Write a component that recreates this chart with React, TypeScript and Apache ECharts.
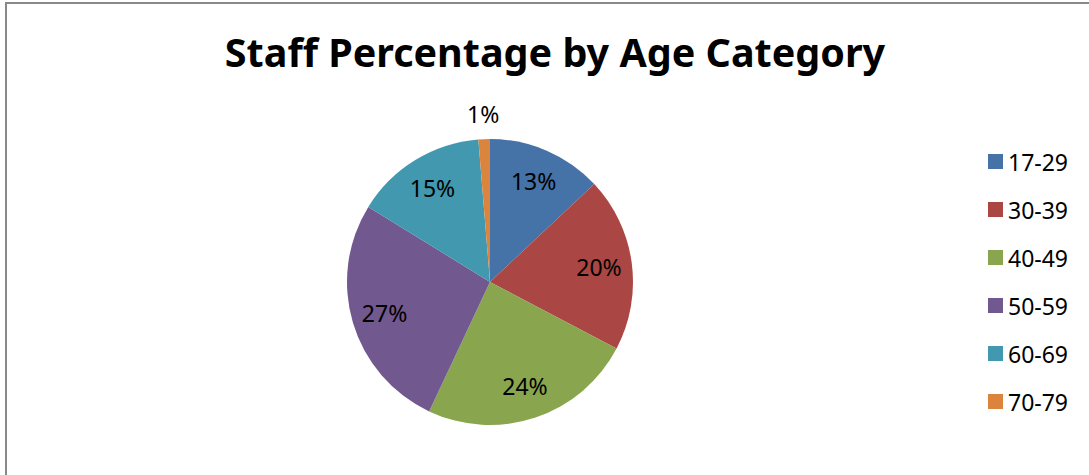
import React, { useEffect, useRef } from "react";
import * as echarts from "echarts";

const categories = ["17-29", "30-39", "40-49", "50-59", "60-69", "70-79"];
const values = [13.0, 19.7, 24.3, 26.8, 14.9, 1.3];
const colors = ["#4572A7", "#AA4643", "#89A54E", "#71588F", "#4198AF", "#DB843D"];
const titleText = "Staff Percentage by Age Category";

const FONT = "'Noto Sans', 'DejaVu Sans', sans-serif";

export default function App() {
  const ref = useRef<HTMLDivElement>(null);
  useEffect(() => {
    if (!ref.current) return;
    const chart = echarts.init(ref.current, null, { renderer: "svg" });
    const fmt = (p: any) => `${Math.round(p.percent)}%`;
    const transparent = "rgba(0,0,0,0)";
    const smallIdx = values.length - 1;
    chart.setOption({
      animation: false,
      backgroundColor: "#ffffff",
      color: colors,
      title: {
        text: titleText,
        left: 550,
        top: 27,
        textAlign: "center",
        textStyle: {
          fontFamily: FONT,
          fontWeight: "bold",
          fontSize: 39.5,
          color: "#000000",
        },
      },
      legend: {
        orient: "vertical",
        left: 988,
        top: 150,
        padding: 0,
        icon: "rect",
        itemWidth: 15,
        itemHeight: 15,
        itemGap: 25,
        data: categories,
        textStyle: {
          fontFamily: FONT,
          fontSize: 23,
          lineHeight: 22,
          color: "#000000",
        },
      },
      graphic: [
        {
          type: "rect",
          shape: { x: 6, y: 3, width: 2000, height: 1000 },
          style: { fill: "none", stroke: "#898989", lineWidth: 2 },
          silent: true,
        },
      ],
      series: [
        {
          name: "main",
          type: "pie",
          center: [490, 282],
          radius: [0, 143],
          startAngle: 90,
          clockwise: true,
          label: { show: false },
          labelLine: { show: false },
          emphasis: { disabled: true },
          data: categories.map((c, i) => ({
            name: c,
            value: values[i],
            itemStyle: { color: colors[i] },
          })),
        },
        {
          name: "labelsInner",
          type: "pie",
          center: [490, 282],
          radius: [71, 143],
          startAngle: 90,
          clockwise: true,
          silent: true,
          emphasis: { disabled: true },
          itemStyle: { color: transparent },
          labelLine: { show: false },
          label: {
            show: true,
            position: "inside",
            formatter: fmt,
            fontFamily: FONT,
            fontSize: 23,
            color: "#000000",
          },
          data: categories.map((c, i) => ({
            name: c,
            value: values[i],
            label: { show: i !== smallIdx },
          })),
        },
        {
          name: "labelsOuter",
          type: "pie",
          center: [490, 282],
          radius: [143, 187],
          startAngle: 90,
          clockwise: true,
          silent: true,
          emphasis: { disabled: true },
          itemStyle: { color: transparent },
          labelLine: { show: false },
          label: {
            show: true,
            position: "inside",
            formatter: fmt,
            fontFamily: FONT,
            fontSize: 23,
            color: "#000000",
          },
          data: categories.map((c, i) => ({
            name: c,
            value: values[i],
            label: { show: i === smallIdx },
          })),
        },
      ],
    });
    return () => chart.dispose();
  }, []);
  return (
    <div
      ref={ref}
      style={{ position: "absolute", left: 0, top: 0, width: 1089, height: 475 }}
    />
  );
}
